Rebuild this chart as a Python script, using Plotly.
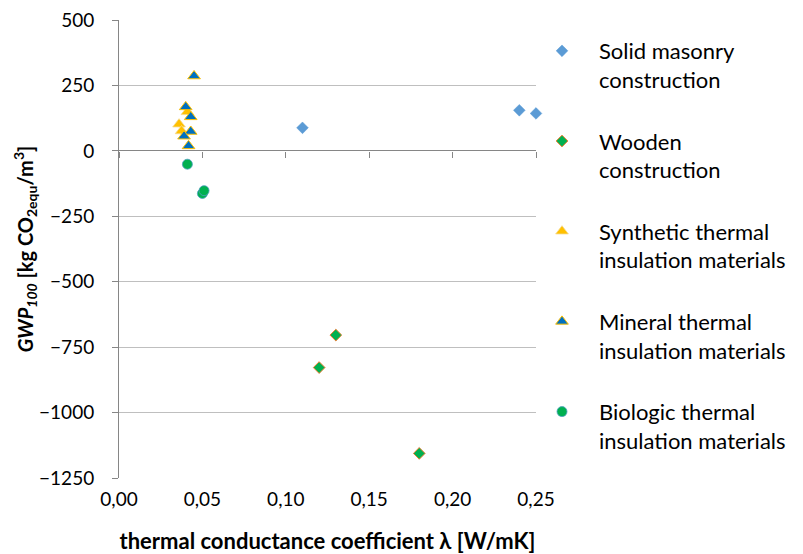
import plotly.graph_objects as go

# thermal conductance coefficient (W/mK) and GWP100 (kg CO2equ/m3) per material group
solid_x = [0.11, 0.24, 0.25]
solid_y = [88, 155, 143]

wood_x = [0.13, 0.12, 0.18]
wood_y = [-704, -828, -1156]

synth_x = [0.036, 0.041, 0.0375]
synth_y = [102, 149, 76]

mineral_x = [0.045, 0.040, 0.043, 0.043, 0.039, 0.0417]
mineral_y = [286, 168, 130, 74, 56, 19]

bio_x = [0.041, 0.050, 0.051]
bio_y = [-51, -163, -152]

names = [
    "Solid masonry<br>construction",
    "Wooden<br>construction",
    "Synthetic thermal<br>insulation materials",
    "Mineral thermal<br>insulation materials",
    "Biologic thermal<br>insulation materials",
]

x_ticks = [0.0, 0.05, 0.10, 0.15, 0.20, 0.25]
x_ticklabels = ["0,00", "0,05", "0,10", "0,15", "0,20", "0,25"]
y_ticks = [500, 250, 0, -250, -500, -750, -1000, -1250]

Y_MIN, Y_MAX = -1250, 500
FONT = "Lato"
AXIS_GREY = "#868686"
TICK_SIZE = 19
TEXT_SIZE = 22

W, H = 803, 554
M_L, M_R, M_T, M_B = 119, 3, 20, 76
PLOT_RIGHT = 536                      # right edge of the plotting area, px
paper_w = W - M_L - M_R
paper_h = H - M_T - M_B
x_domain_end = (PLOT_RIGHT - M_L) / paper_w

fig = go.Figure()

fig.add_trace(go.Scatter(
    x=solid_x, y=solid_y, mode="markers", name=names[0], legendgroup="g1",
    marker=dict(symbol="diamond", size=9, color="#5B9BD5",
                line=dict(color="#5B9BD5", width=0.5)),
    cliponaxis=False,
))
fig.add_trace(go.Scatter(
    x=wood_x, y=wood_y, mode="markers", name=names[1], legendgroup="g2",
    marker=dict(symbol="diamond", size=9, color="#00B050",
                line=dict(color="#ED7D31", width=1)),
    cliponaxis=False,
))
fig.add_trace(go.Scatter(
    x=synth_x, y=synth_y, mode="markers", name=names[2], legendgroup="g3",
    marker=dict(symbol="triangle-up", size=11, color="#FFC000",
                line=dict(color="#F5D98A", width=0.8)),
    cliponaxis=False,
))
fig.add_trace(go.Scatter(
    x=mineral_x, y=mineral_y, mode="markers", name=names[3], legendgroup="g4",
    marker=dict(symbol="triangle-up", size=11, color="#0070C0",
                line=dict(color="#FFC000", width=1)),
    cliponaxis=False,
))
fig.add_trace(go.Scatter(
    x=bio_x, y=bio_y, mode="markers", name=names[4], legendgroup="g5",
    marker=dict(symbol="circle", size=10, color="#00B050",
                line=dict(color="#4F9FC0", width=0.8)),
    cliponaxis=False,
))

# tick marks of the horizontal axis, which crosses the value axis at zero
fig.add_trace(go.Scatter(x=[None], y=[None], xaxis="x2", showlegend=False,
                         hoverinfo="skip"))

fig.update_layout(
    width=W, height=H,
    margin=dict(l=M_L, r=M_R, t=M_T, b=M_B),
    paper_bgcolor="white", plot_bgcolor="white",
    font=dict(family=FONT, size=TICK_SIZE, color="#000000"),
    showlegend=True,
    legend=dict(
        x=(525 - M_L) / paper_w, y=1 - (30 - M_T) / paper_h,
        xanchor="left", yanchor="top",
        font=dict(family=FONT, size=TEXT_SIZE, color="#000000"),
        valign="top", tracegroupgap=30, itemwidth=64, maxheight=540,
        bgcolor="rgba(0,0,0,0)",
    ),
    xaxis=dict(
        domain=[0, x_domain_end],
        range=[0, 0.25], tickvals=x_ticks, ticktext=x_ticklabels,
        showgrid=False, zeroline=False, showline=False, ticks="",
        ticklabelstandoff=8, automargin=False,
        tickfont=dict(family=FONT, size=TICK_SIZE),
        title=dict(text="<b>thermal conductance coefficient λ [W/mK]</b>",
                   font=dict(family=FONT, size=TEXT_SIZE), standoff=24),
    ),
    xaxis2=dict(
        domain=[0, x_domain_end],
        overlaying="x", matches="x", anchor="free",
        position=(0 - Y_MIN) / (Y_MAX - Y_MIN),
        range=[0, 0.25], tickvals=x_ticks, showticklabels=False,
        ticks="outside", ticklen=6, tickcolor=AXIS_GREY, tickwidth=1,
        showgrid=False, zeroline=False, showline=False, automargin=False,
    ),
    yaxis=dict(
        range=[Y_MIN, Y_MAX], tickvals=y_ticks,
        showgrid=True, gridcolor="#BFBFBF", gridwidth=1,
        zeroline=True, zerolinecolor=AXIS_GREY, zerolinewidth=1,
        showline=True, linecolor=AXIS_GREY, linewidth=1,
        ticks="outside", ticklen=6, tickcolor=AXIS_GREY,
        ticklabelstandoff=14, automargin=False,
        tickfont=dict(family=FONT, size=TICK_SIZE),
        title=dict(
            text="<b><i>GWP<sub>100</sub></i> [kg CO<sub>2equ</sub>/m<sup>3</sup>]</b>",
            font=dict(family=FONT, size=20), standoff=0),
    ),
)

fig.write_html("out.html")
